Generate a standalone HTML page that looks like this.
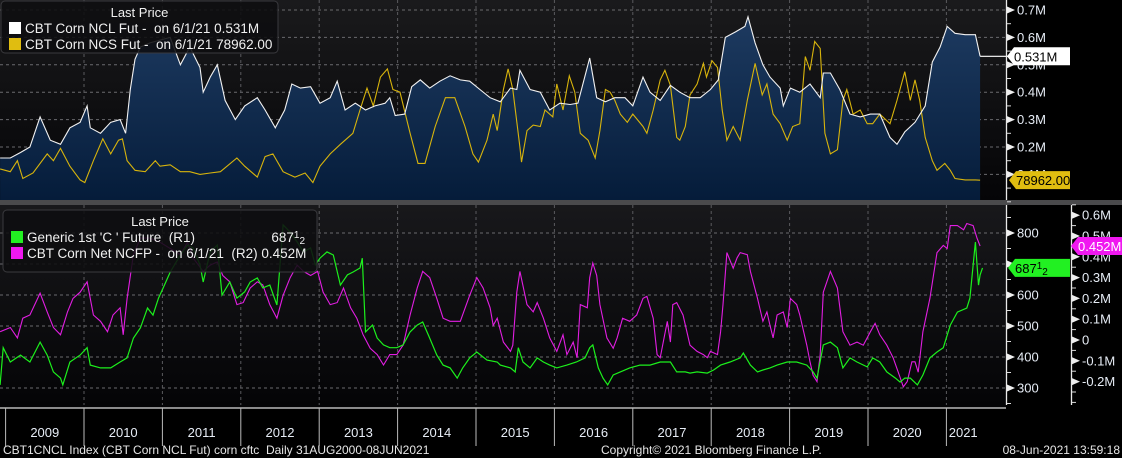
<!DOCTYPE html>
<html><head><meta charset="utf-8"><style>
html,body{margin:0;padding:0;background:#000;width:1122px;height:458px;overflow:hidden}
svg{display:block;font-family:"Liberation Sans",sans-serif}
</style></head><body>
<svg id="c" width="1122" height="458" viewBox="0 0 1122 458" xmlns="http://www.w3.org/2000/svg">
<defs>
<linearGradient id="bgTop" x1="0" y1="0" x2="0" y2="1"><stop offset="0" stop-color="#1a1a1c"/><stop offset="1" stop-color="#050507"/></linearGradient>
<linearGradient id="bgBot" x1="0" y1="0" x2="0" y2="1"><stop offset="0" stop-color="#18181b"/><stop offset="1" stop-color="#040406"/></linearGradient>
<linearGradient id="navy" gradientUnits="userSpaceOnUse" x1="0" y1="20" x2="0" y2="200"><stop offset="0" stop-color="#1d3a60"/><stop offset="1" stop-color="#051c3a"/></linearGradient>
<clipPath id="clipTop"><rect x="0" y="0" width="1006" height="200"/></clipPath>
<clipPath id="clipBot"><rect x="0" y="205" width="1006" height="200"/></clipPath>
</defs>
<rect x="0" y="0" width="1006" height="200" fill="url(#bgTop)"/>
<rect x="0" y="205" width="1006" height="203" fill="url(#bgBot)"/>
<rect x="0" y="200" width="1122" height="5" fill="#4a4a4c"/>
<g id="grid"></g>
<g id="series"></g>
<g id="axes"></g>
<g id="labels"></g>
</svg>
<script>
// ---- data ----
const yearTicks=[2009,2010,2011,2012,2013,2014,2015,2016,2017,2018,2019,2020,2021];
const topTicks=[0.1,0.2,0.3,0.4,0.5,0.6,0.7];
const topTickLabels=["0.1M","0.2M","0.3M","0.4M","0.5M","0.6M","0.7M"];
const r1Ticks=[300,400,500,600,700,800];
const r1TickLabels=["300","400","500","600","700","800"];
const r2Ticks=[-0.2,-0.1,0,0.1,0.2,0.3,0.4,0.5,0.6];
const r2TickLabels=["-0.2M","-0.1M","0","0.1M","0.2M","0.3M","0.4M","0.5M","0.6M"];

const nclDates=[2008.93,2009.06,2009.19,2009.31,2009.44,2009.57,2009.70,2009.82,2009.95,2010.04,2010.08,2010.21,2010.34,2010.46,2010.53,2010.59,2010.65,2010.72,2010.84,2010.97,2011.10,2011.23,2011.35,2011.48,2011.52,2011.61,2011.70,2011.80,2011.93,2012.05,2012.21,2012.31,2012.44,2012.56,2012.65,2012.76,2012.89,2013.01,2013.14,2013.23,2013.33,2013.46,2013.59,2013.71,2013.84,2013.90,2013.97,2014.09,2014.18,2014.29,2014.41,2014.54,2014.67,2014.80,2014.92,2015.05,2015.18,2015.31,2015.44,2015.52,2015.56,2015.69,2015.82,2015.94,2016.07,2016.20,2016.30,2016.45,2016.54,2016.65,2016.77,2016.90,2017.00,2017.13,2017.22,2017.35,2017.48,2017.60,2017.73,2017.86,2017.99,2018.09,2018.18,2018.31,2018.43,2018.47,2018.56,2018.66,2018.75,2018.88,2018.92,2019.01,2019.13,2019.26,2019.39,2019.43,2019.52,2019.64,2019.77,2019.90,2020.03,2020.15,2020.28,2020.37,2020.47,2020.60,2020.73,2020.82,2020.92,2021.01,2021.11,2021.24,2021.37,2021.43];
const nclValues=[.16,.16,.18,.20,.31,.225,.21,.27,.29,.35,.27,.25,.29,.30,.25,.41,.52,.565,.58,.59,.60,.50,.565,.49,.40,.455,.50,.37,.30,.35,.38,.335,.27,.335,.43,.415,.42,.36,.38,.44,.335,.36,.335,.35,.36,.38,.315,.32,.42,.445,.415,.44,.46,.445,.44,.41,.38,.365,.415,.41,.48,.41,.40,.335,.36,.355,.36,.525,.38,.365,.38,.38,.35,.455,.40,.37,.425,.40,.38,.38,.41,.445,.60,.62,.64,.675,.58,.50,.455,.415,.35,.415,.40,.43,.38,.47,.47,.41,.32,.31,.32,.32,.235,.21,.255,.29,.35,.51,.565,.64,.615,.61,.61,.531];

const ncsDates=[2008.93,2009.06,2009.15,2009.22,2009.35,2009.53,2009.61,2009.70,2009.82,2009.95,2010.01,2010.12,2010.24,2010.34,2010.44,2010.49,2010.55,2010.65,2010.78,2010.91,2010.97,2011.10,2011.23,2011.35,2011.48,2011.61,2011.74,2011.95,2012.05,2012.21,2012.31,2012.41,2012.54,2012.69,2012.82,2012.92,2013.01,2013.14,2013.27,2013.43,2013.52,2013.61,2013.69,2013.78,2013.87,2013.94,2014.03,2014.16,2014.26,2014.35,2014.48,2014.61,2014.73,2014.86,2014.96,2015.03,2015.14,2015.22,2015.27,2015.35,2015.41,2015.47,2015.56,2015.58,2015.65,2015.73,2015.82,2015.88,2015.98,2016.03,2016.11,2016.19,2016.26,2016.33,2016.43,2016.52,2016.58,2016.65,2016.71,2016.77,2016.84,2016.93,2017.00,2017.13,2017.18,2017.26,2017.35,2017.41,2017.48,2017.56,2017.60,2017.67,2017.73,2017.82,2017.90,2017.94,2018.01,2018.08,2018.14,2018.20,2018.28,2018.37,2018.46,2018.56,2018.65,2018.71,2018.79,2018.88,2018.97,2019.04,2019.13,2019.20,2019.26,2019.32,2019.39,2019.45,2019.52,2019.61,2019.68,2019.73,2019.81,2019.90,2019.99,2020.06,2020.15,2020.28,2020.37,2020.47,2020.54,2020.60,2020.66,2020.73,2020.82,2020.88,2020.98,2021.05,2021.11,2021.24,2021.37,2021.43];
const ncsValues=[.12,.11,.15,.085,.105,.175,.15,.195,.13,.08,.07,.15,.23,.175,.225,.23,.15,.115,.11,.15,.13,.135,.11,.11,.10,.105,.11,.16,.13,.09,.165,.175,.11,.09,.105,.07,.13,.175,.21,.25,.335,.415,.35,.455,.485,.41,.40,.25,.14,.14,.275,.38,.38,.275,.175,.145,.225,.32,.26,.41,.485,.41,.20,.145,.26,.28,.275,.335,.31,.43,.335,.46,.40,.25,.225,.16,.26,.41,.40,.37,.32,.29,.32,.275,.25,.335,.445,.48,.425,.235,.225,.275,.39,.43,.505,.455,.515,.49,.335,.225,.275,.225,.37,.505,.39,.43,.32,.285,.225,.275,.285,.53,.48,.585,.56,.25,.175,.19,.37,.41,.32,.335,.285,.285,.32,.285,.37,.475,.37,.445,.37,.235,.15,.115,.14,.115,.085,.08,.08,.079];

const cornDates=[2008.93,2008.97,2009.06,2009.19,2009.31,2009.44,2009.53,2009.61,2009.70,2009.73,2009.82,2009.95,2010.04,2010.08,2010.21,2010.34,2010.46,2010.55,2010.63,2010.72,2010.81,2010.88,2010.95,2011.01,2011.10,2011.23,2011.32,2011.39,2011.48,2011.52,2011.61,2011.70,2011.76,2011.86,2011.95,2012.05,2012.12,2012.21,2012.28,2012.37,2012.46,2012.54,2012.63,2012.72,2012.80,2012.89,2012.95,2013.01,2013.10,2013.18,2013.27,2013.36,2013.43,2013.52,2013.55,2013.59,2013.68,2013.74,2013.82,2013.90,2013.99,2014.07,2014.16,2014.25,2014.32,2014.41,2014.50,2014.58,2014.67,2014.76,2014.83,2014.92,2015.01,2015.14,2015.27,2015.31,2015.44,2015.50,2015.54,2015.60,2015.69,2015.78,2015.86,2015.94,2016.03,2016.16,2016.28,2016.39,2016.45,2016.49,2016.56,2016.62,2016.68,2016.75,2016.84,2016.96,2017.09,2017.22,2017.35,2017.48,2017.56,2017.67,2017.73,2017.82,2017.95,2018.03,2018.12,2018.24,2018.37,2018.41,2018.50,2018.59,2018.66,2018.75,2018.84,2018.97,2019.09,2019.22,2019.30,2019.35,2019.43,2019.52,2019.61,2019.68,2019.77,2019.86,2019.99,2020.06,2020.15,2020.24,2020.35,2020.41,2020.47,2020.54,2020.63,2020.70,2020.79,2020.88,2020.96,2021.05,2021.14,2021.26,2021.30,2021.37,2021.41,2021.43,2021.46];
const cornValues=[310,430,384,406,384,448,406,352,332,310,384,406,430,374,365,365,384,397,461,494,558,535,590,623,674,729,761,752,697,642,739,761,600,642,590,610,642,655,623,632,568,826,803,771,739,752,697,719,739,729,632,665,674,687,719,481,503,461,439,430,430,439,481,503,513,461,406,374,365,332,365,397,416,390,384,374,365,352,430,384,365,397,384,374,365,374,384,397,430,439,365,332,310,342,352,365,374,374,384,384,352,352,348,352,348,358,374,384,397,413,374,352,358,365,374,384,384,374,352,332,439,448,430,365,397,384,368,397,384,352,332,319,332,332,310,342,397,416,430,503,545,558,590,771,632,665,687.5];

const ncfpDates=[2008.93,2009.06,2009.15,2009.22,2009.31,2009.44,2009.53,2009.61,2009.70,2009.79,2009.86,2009.95,2010.04,2010.12,2010.21,2010.30,2010.37,2010.46,2010.50,2010.55,2010.63,2010.72,2010.84,2010.97,2011.10,2011.23,2011.32,2011.39,2011.52,2011.61,2011.70,2011.77,2011.86,2011.95,2012.03,2012.12,2012.21,2012.28,2012.37,2012.46,2012.54,2012.63,2012.72,2012.80,2012.89,2012.98,2013.05,2013.14,2013.23,2013.31,2013.40,2013.48,2013.56,2013.65,2013.74,2013.82,2013.90,2013.99,2014.07,2014.16,2014.25,2014.32,2014.41,2014.50,2014.58,2014.67,2014.80,2014.92,2015.01,2015.09,2015.18,2015.22,2015.27,2015.35,2015.44,2015.47,2015.52,2015.56,2015.65,2015.73,2015.78,2015.86,2015.94,2016.03,2016.11,2016.16,2016.24,2016.29,2016.33,2016.42,2016.45,2016.49,2016.54,2016.58,2016.67,2016.75,2016.80,2016.87,2016.96,2017.05,2017.13,2017.18,2017.26,2017.31,2017.35,2017.44,2017.48,2017.51,2017.56,2017.64,2017.73,2017.82,2017.90,2017.95,2017.99,2018.08,2018.12,2018.15,2018.20,2018.28,2018.33,2018.37,2018.46,2018.50,2018.59,2018.66,2018.71,2018.75,2018.79,2018.84,2018.92,2018.97,2019.01,2019.09,2019.13,2019.22,2019.26,2019.30,2019.35,2019.39,2019.43,2019.52,2019.61,2019.68,2019.77,2019.86,2019.94,2020.03,2020.09,2020.15,2020.24,2020.32,2020.41,2020.45,2020.50,2020.56,2020.60,2020.64,2020.70,2020.79,2020.88,2020.96,2021.01,2021.05,2021.14,2021.22,2021.26,2021.34,2021.39,2021.43];
const ncfpValues=[.04,.06,.01,.105,.12,.225,.135,.06,.025,.135,.20,.23,.28,.12,.09,.04,.12,.155,.025,.20,.41,.49,.49,.47,.44,.41,.47,.395,.33,.36,.375,.31,.28,.17,.18,.25,.28,.265,.17,.105,.215,.30,.36,.33,.31,.33,.23,.17,.18,.25,.155,.105,.025,-.04,-.07,-.12,-.07,-.07,-.025,.12,.25,.33,.30,.20,.105,.09,.09,.215,.30,.25,.155,.07,.105,-.01,-.055,-.025,.23,.33,.17,.135,.18,.105,.01,-.055,.025,-.07,-.01,-.085,.17,.155,.30,.37,.31,.17,.01,-.04,.01,.105,.09,.12,.20,.21,.105,-.07,-.085,.09,-.01,.17,.18,.12,-.025,-.055,-.07,-.085,-.055,-.07,.04,.17,.42,.345,.395,.42,.41,.33,.20,.09,.135,.07,.01,.12,.135,.06,.20,.17,.12,-.025,-.105,-.17,-.20,-.07,.23,.33,.25,.04,-.025,-.01,-.025,.04,.08,.025,-.025,-.085,-.18,-.225,-.20,-.105,-.105,-.155,.04,.20,.42,.455,.44,.55,.55,.53,.56,.55,.49,.452];

// ---- scales ----
const X=yr=>5.6+(yr-2009)*78.4;
const YT=v=>201.8-v*274;
const YR1=p=>388-(p-300)*0.31;
const YR2=v=>340-v*208;
const NS="http://www.w3.org/2000/svg";
function mk(parent,tag,attrs){const e=document.createElementNS(NS,tag);for(const k in attrs)e.setAttribute(k,attrs[k]);parent.appendChild(e);return e;}
function pathD(ds,vs,ys){return ds.map((d,i)=>(i?"L":"M")+X(d).toFixed(1)+","+ys(vs[i]).toFixed(1)).join(" ");}

const grid=document.getElementById('grid'),series=document.getElementById('series'),axes=document.getElementById('axes'),labels=document.getElementById('labels');

// gridlines
topTicks.forEach(t=>{const l=mk(grid,'line',{x1:0,x2:1006,y1:YT(t),y2:YT(t),stroke:'#6a6a6e','stroke-dasharray':'3,3','stroke-width':1});

});
r1Ticks.forEach(t=>{const l=mk(grid,'line',{x1:0,x2:1006,y1:YR1(t),y2:YR1(t),stroke:'#6a6a6e','stroke-dasharray':'3,3','stroke-width':1});

});
yearTicks.slice(1).forEach(y=>{[[0,200],[205,405]].forEach(r=>{const l=mk(grid,'line',{x1:X(y),x2:X(y),y1:r[0],y2:r[1],stroke:'#5a5a5e','stroke-dasharray':'3,3','stroke-width':1});

});});

// top series
const gt=mk(series,'g',{'clip-path':'url(#clipTop)'});
const area=mk(gt,'path',{d:pathD(nclDates,nclValues,YT)+` L${X(nclDates[nclDates.length-1]).toFixed(1)},200 L${X(nclDates[0]).toFixed(1)},200 Z`,fill:'url(#navy)'});


const ncs=mk(gt,'path',{d:pathD(ncsDates,ncsValues,YT),fill:'none',stroke:'#d8b40c','stroke-width':1.1});


const ncl=mk(gt,'path',{d:pathD(nclDates,nclValues,YT),fill:'none',stroke:'#f2f2f2','stroke-width':1.1});


const lastNcl=nclValues[nclValues.length-1];
const nclLead=mk(series,'line',{x1:X(nclDates[nclDates.length-1]),x2:1008,y1:YT(lastNcl),y2:YT(lastNcl),stroke:'#fff','stroke-width':1.2});



// bottom series
const gb=mk(series,'g',{'clip-path':'url(#clipBot)'});
const ncfp=mk(gb,'path',{d:pathD(ncfpDates,ncfpValues,YR2),fill:'none',stroke:'#e21ee2','stroke-width':1.1});


const corn=mk(gb,'path',{d:pathD(cornDates,cornValues,YR1),fill:'none',stroke:'#1cf01c','stroke-width':1.2});



// axes
function vline(x,y1,y2,name){const l=mk(axes,'line',{x1:x,x2:x,y1:y1,y2:y2,stroke:'#e8e8e8','stroke-width':1.3});

}
vline(1006.5,0,200,'top-y-axis');
vline(1006.5,205,405,'r1-axis');
vline(1071.5,205,405,'r2-axis');
function ticks(x,vals,labs,sc,name,minorStep,lo,hi){
  for(let v=lo;v<=hi+1e-9;v+=minorStep){const y=sc(v);if(y<1||y>404)continue;const m=mk(axes,'line',{x1:x,x2:x+4,y1:y,y2:y,stroke:'#ddd','stroke-width':1});
  
  }
  vals.forEach((v,i)=>{const y=sc(v);const p=mk(axes,'path',{d:`M${x},${y-3.5} L${x+8},${y} L${x},${y+3.5} Z`,fill:'#eee'});
  
  
  const t=mk(axes,'text',{x:x+10,y:y+4.5,fill:'#e6ecf5','font-size':13});t.textContent=labs[i];
  
  });
}
ticks(1007,topTicks,topTickLabels,YT,'top-axis',0.05,0,0.75);
ticks(1007,r1Ticks,r1TickLabels,YR1,'r1-axis',50,250,850);
ticks(1072,r2Ticks,r2TickLabels,YR2,'r2-axis',0.05,-0.3,0.65);

// x axis
const xl=mk(axes,'line',{x1:0,x2:1006,y1:408,y2:408,stroke:'#ddd','stroke-width':1.3});


yearTicks.forEach((y,i)=>{const sl=mk(axes,'line',{x1:X(y),x2:X(y),y1:408,y2:446,stroke:'#bbb','stroke-width':1});


const cx=i<yearTicks.length-1?(X(y)+X(y+1))/2:(X(y)+980)/2;
const t=mk(axes,'text',{x:cx,y:437,fill:'#e6ecf5','font-size':13,'text-anchor':'middle'});t.textContent=String(y);

});

// value tags
function tag(x,y,w,txt,bg,fg,name){const g=mk(labels,'g',{});


mk(g,'path',{d:`M${x},${y} L${x+7},${y-9} L${x+w},${y-9} L${x+w},${y+9} L${x+7},${y+9} Z`,fill:bg});
const t=mk(g,'text',{x:x+7,y:y+5,fill:fg,'font-size':13});t.innerHTML=txt;}
tag(1007,YT(lastNcl),63,'0.531M','#ffffff','#000','ncl-last-value-tag');
tag(1009,YT(ncsValues[ncsValues.length-1]),61,'78962.00','#e0bd10','#000','ncs-last-value-tag');
tag(1008,YR1(cornValues[cornValues.length-1]),62,'687<tspan font-size="10" dy="-4">1</tspan><tspan font-size="10" dy="6">2</tspan>','#22f022','#000','corn-last-value-tag');
tag(1071,YR2(ncfpValues[ncfpValues.length-1]),51,'0.452M','#f018f0','#fff','ncfp-last-value-tag');

// legends
function legend(x,y,w,h,rows,name){const g=mk(labels,'g',{});


mk(g,'rect',{x:x,y:y,width:w,height:h,rx:4,fill:'rgba(14,14,16,0.88)',stroke:'#3a3a3e'});
const t=mk(g,'text',{x:x+w/2,y:y+16,fill:'#f0f0f0','font-size':13,'text-anchor':'middle'});t.textContent='Last Price';
rows.forEach((r,i)=>{const yy=y+32+i*16;mk(g,'rect',{x:x+8,y:yy-11,width:12,height:12,fill:r[0]});
const tt=mk(g,'text',{x:x+24,y:yy,fill:'#f0f0f0','font-size':13.5});tt.innerHTML=r[1];
if(r[2]){const t2=mk(g,'text',{x:x+w-12,y:yy,fill:'#f0f0f0','font-size':13.5,'text-anchor':'end'});t2.innerHTML=r[2];}});}
legend(1,1,277,52,[['#ffffff','CBT Corn NCL Fut -&#160; on 6/1/21 0.531M'],['#e0bd10','CBT Corn NCS Fut -&#160; on 6/1/21 78962.00']],'top-legend');
legend(3,210,314,62,[['#22f022',"Generic 1st 'C ' Future&#160; (R1)",'687<tspan font-size="10" dy="-4">1</tspan><tspan font-size="10" dy="6">2</tspan>'],['#f018f0','CBT Corn Net NCFP -&#160; on 6/1/21&#160; (R2) 0.452M']],'bottom-legend');
</script>
<div style="position:absolute;left:0;top:443px;width:1122px;height:15px;font:12px 'Liberation Sans',sans-serif;color:#e6e6e6">
<span style="position:absolute;left:3px;top:0">CBT1CNCL Index (CBT Corn NCL Fut) corn cftc&#160; Daily 31AUG2000-08JUN2021</span>
<span style="position:absolute;left:601px;top:0">Copyright© 2021 Bloomberg Finance L.P.</span>
<span style="position:absolute;right:2px;top:0">08-Jun-2021 13:59:18</span>
</div>
</body></html>
